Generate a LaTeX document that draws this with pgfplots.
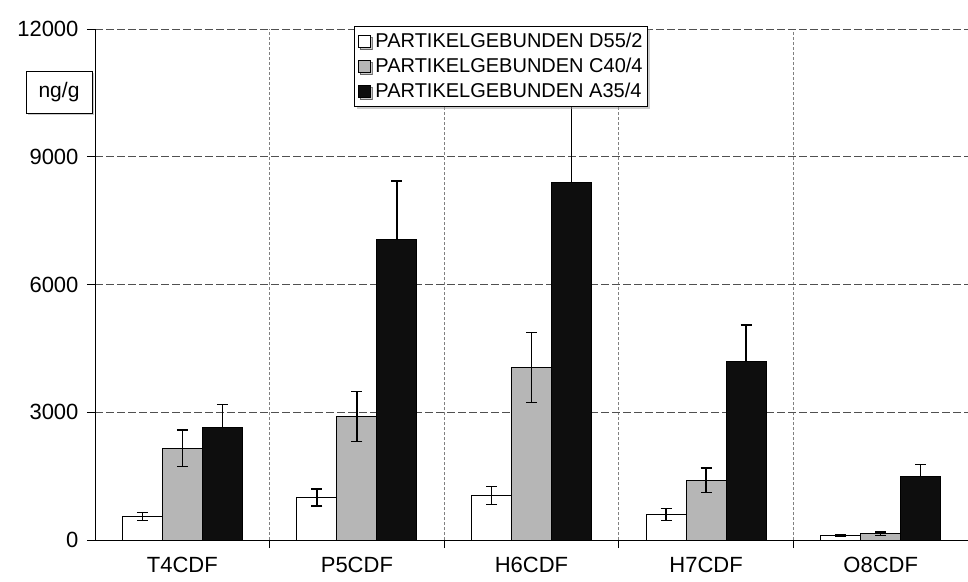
\documentclass[border=0pt]{standalone}
\usepackage{fontspec}
\setmainfont{Liberation Sans}
\usepackage{pgfplots}
\pgfplotsset{compat=1.18}
\usetikzlibrary{shadows}

\definecolor{barwhite}{RGB}{255,255,255}
\definecolor{bargray}{RGB}{182,182,182}
\definecolor{barblack}{RGB}{14,14,14}
\definecolor{gridgray}{RGB}{80,80,80}

\pgfplotsset{
  sdbars/.style={
    error bars/.cd, y dir=both, y explicit,
    error bar style={line width=1.3pt, black},
    error mark options={rotate=90, mark size=5.5pt, line width=1.3pt, black},
  },
  sdbarsup/.style={
    error bars/.cd, y dir=plus, y explicit,
    error bar style={line width=1.3pt, black},
    error mark options={rotate=90, mark size=5.5pt, line width=1.3pt, black},
  },
}

\begin{document}
\begin{tikzpicture}
\begin{axis}[
  set layers,
  at={(0pt,0pt)}, anchor=south west,
  scale only axis, width=873pt, height=511pt,
  xmin=-0.5, xmax=4.5, ymin=0, ymax=12000,
  axis lines=left, axis line style={-, line width=1pt, black},
  ybar=0pt, bar width=40pt,
  clip=false,
  tick align=outside, major tick length=8pt,
  tick style={black, line width=0.8pt},
  ytick={0,3000,6000,9000,12000},
  scaled y ticks=false,
  ymajorgrids,
  y grid style={gridgray, dash pattern=on 8pt off 3pt, line width=0.8pt},
  xtick={0.5,1.5,2.5,3.5}, xticklabels={},
  xmajorgrids,
  x grid style={gray, dash pattern=on 3pt off 2pt, line width=0.8pt},
  extra x ticks={0,1,2,3,4},
  extra x tick labels={T4CDF,P5CDF,H6CDF,H7CDF,O8CDF},
  extra x tick style={grid=none, major tick length=0pt,
    tick label style={font=\fontsize{22}{26}\selectfont, yshift=-14pt}},
  /pgf/number format/assume math mode=true,
  /pgf/number format/1000 sep={},
  yticklabel style={font=\fontsize{22}{26}\selectfont, xshift=-5pt},
  legend style={at={(axis description cs:0.297,1.006)}, anchor=north west,
    draw=black, fill=white, line width=0.8pt,
    drop shadow={shadow xshift=2pt, shadow yshift=-2.5pt, fill=gray!80},
    font=\fontsize{20}{24}\selectfont, inner xsep=3pt, inner ysep=5pt,
    row sep=5pt,
    /tikz/every odd column/.append style={column sep=3pt}},
  legend cell align=left,
  legend image code/.code={\draw[#1, line width=0.8pt] (0pt,-6pt) rectangle (12pt,6pt);},
]
% particle-bound concentrations with standard deviations
\addplot[draw=black, line width=1pt, fill=barwhite, sdbars] coordinates {
  (0,550) +- (0,100)
  (1,1000) +- (0,200)
  (2,1050) +- (0,210)
  (3,600) +- (0,135)
  (4,100) +- (0,25)
};
\addplot[draw=black, line width=1pt, fill=bargray, sdbars] coordinates {
  (0,2150) +- (0,430)
  (1,2900) +- (0,590)
  (2,4050) +- (0,820)
  (3,1400) +- (0,290)
  (4,150) +- (0,40)
};
\addplot[draw=black, line width=1pt, fill=barblack, sdbarsup] coordinates {
  (0,2650) +- (0,530)
  (1,7050) +- (0,1380)
  (2,8400) +- (0,2100)
  (3,4200) +- (0,850)
  (4,1500) +- (0,270)
};
\legend{PARTIKELGEBUNDEN D55/2, PARTIKELGEBUNDEN C40/4, PARTIKELGEBUNDEN A35/4}
\end{axis}
\node[draw=black, fill=white, line width=0.8pt,
  drop shadow={shadow xshift=2pt, shadow yshift=-2.5pt, fill=gray!80},
  minimum width=66pt, minimum height=42pt, inner sep=0pt,
  font=\fontsize{21}{25}\selectfont] at (-36pt,448pt) {ng/g};
\pgfresetboundingbox
\path[use as bounding box] (-95pt,-41pt) rectangle (873pt,540pt);
\end{tikzpicture}
\end{document}
